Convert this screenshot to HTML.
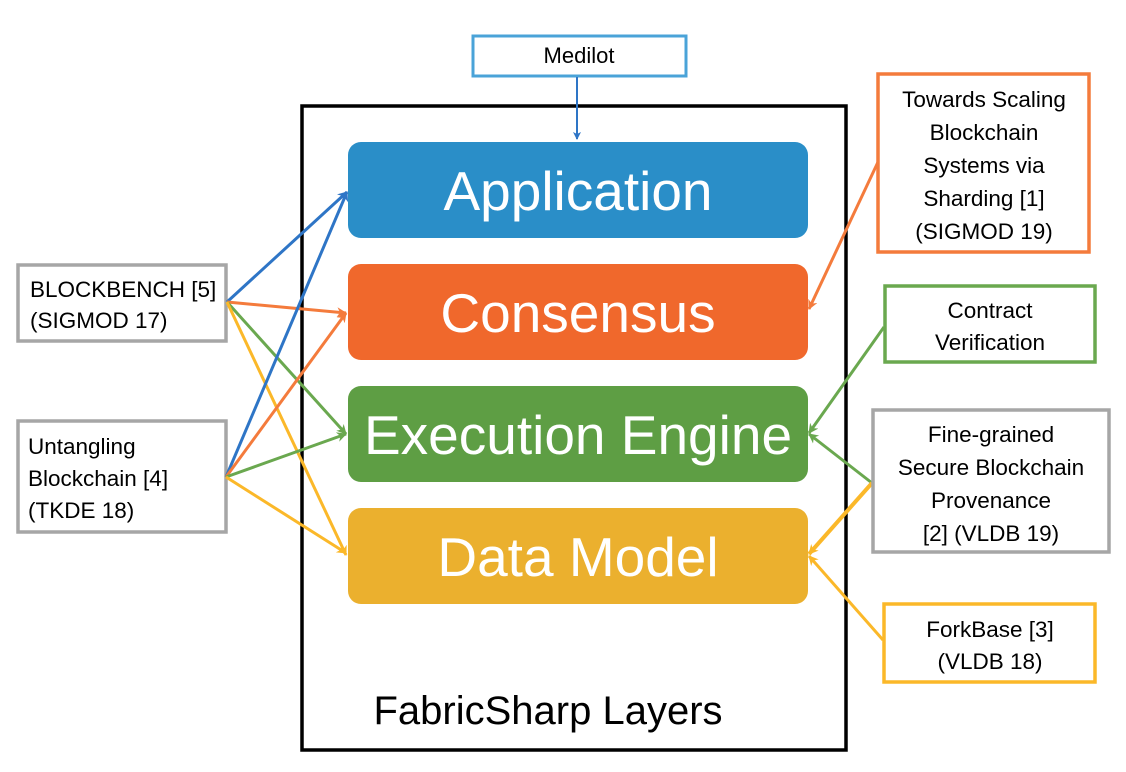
<!DOCTYPE html>
<html><head><meta charset="utf-8"><style>
html,body{margin:0;padding:0;background:#fff;}
svg text{font-family:"Liberation Sans",sans-serif;}
</style></head><body>
<svg width="1126" height="767" viewBox="0 0 1126 767" xmlns="http://www.w3.org/2000/svg">
<defs>
<marker id="ab" markerWidth="8" markerHeight="8" refX="7" refY="4" orient="auto" markerUnits="userSpaceOnUse"><path d="M0,0 L8,4 L0,8 L2,4 Z" fill="#2e75c6"/></marker>
<marker id="ao" markerWidth="10" markerHeight="10" refX="9" refY="5" orient="auto" markerUnits="userSpaceOnUse"><path d="M0,0 L10,5 L0,10 L3,5 Z" fill="#f47b3c"/></marker>
<marker id="ag" markerWidth="10" markerHeight="10" refX="9" refY="5" orient="auto" markerUnits="userSpaceOnUse"><path d="M0,0 L10,5 L0,10 L3,5 Z" fill="#6aa84f"/></marker>
<marker id="ay" markerWidth="10" markerHeight="10" refX="9" refY="5" orient="auto" markerUnits="userSpaceOnUse"><path d="M0,0 L10,5 L0,10 L3,5 Z" fill="#fbb829"/></marker>
<marker id="abl" markerWidth="10" markerHeight="10" refX="9" refY="5" orient="auto" markerUnits="userSpaceOnUse"><path d="M0,0 L10,5 L0,10 L3,5 Z" fill="#2e75c6"/></marker>
</defs>
<rect x="302" y="106" width="544" height="644" fill="none" stroke="#000" stroke-width="3.5"/>
<rect x="473" y="36" width="213" height="40" fill="#fff" stroke="#4aa3d8" stroke-width="3"/>
<text x="579" y="63" font-size="22" text-anchor="middle">Medilot</text>
<line x1="577" y1="77" x2="577" y2="139" stroke="#2e75c6" stroke-width="2" marker-end="url(#ab)"/>
<rect x="348" y="142" width="460" height="96" rx="13" fill="#2a8ec8"/>
<rect x="348" y="264" width="460" height="96" rx="13" fill="#f0682c"/>
<rect x="348" y="386" width="460" height="96" rx="13" fill="#5e9e44"/>
<rect x="348" y="508" width="460" height="96" rx="13" fill="#ebb02e"/>
<g fill="#fff" font-size="55" text-anchor="middle">
<text x="578" y="210">Application</text>
<text x="578" y="332">Consensus</text>
<text x="578" y="454">Execution Engine</text>
<text x="578" y="576">Data Model</text>
</g>
<text x="548" y="724" font-size="40" text-anchor="middle">FabricSharp Layers</text>
<rect x="18" y="265" width="208" height="76" fill="#fff" stroke="#a6a6a6" stroke-width="3.5"/>
<text x="30" y="297" font-size="22.5">BLOCKBENCH [5]</text>
<text x="30" y="328" font-size="22.5">(SIGMOD 17)</text>
<rect x="18" y="421" width="208" height="111" fill="#fff" stroke="#a6a6a6" stroke-width="3.5"/>
<text x="28" y="454" font-size="22.5">Untangling</text>
<text x="28" y="486" font-size="22.5">Blockchain [4]</text>
<text x="28" y="518" font-size="22.5">(TKDE 18)</text>
<g stroke-width="3" fill="none">
<line x1="227" y1="302" x2="347" y2="192" stroke="#2e75c6" marker-end="url(#abl)"/>
<line x1="227" y1="302" x2="346" y2="313" stroke="#f47b3c" marker-end="url(#ao)"/>
<line x1="227" y1="302" x2="346" y2="434" stroke="#6aa84f" marker-end="url(#ag)"/>
<line x1="227" y1="302" x2="346" y2="555" stroke="#fbb829" marker-end="url(#ay)"/>
<line x1="226" y1="477" x2="347" y2="192" stroke="#2e75c6" marker-end="url(#abl)"/>
<line x1="226" y1="477" x2="346" y2="313" stroke="#f47b3c" marker-end="url(#ao)"/>
<line x1="226" y1="477" x2="346" y2="434" stroke="#6aa84f" marker-end="url(#ag)"/>
<line x1="226" y1="477" x2="346" y2="553" stroke="#fbb829" marker-end="url(#ay)"/>
<line x1="878" y1="162" x2="809" y2="309" stroke="#f47b3c" marker-end="url(#ao)"/>
<line x1="884" y1="327" x2="809" y2="433" stroke="#6aa84f" marker-end="url(#ag)"/>
<line x1="872" y1="483" x2="809" y2="434" stroke="#6aa84f" marker-end="url(#ag)"/>
<line x1="872" y1="483" x2="809" y2="554" stroke="#fbb829" stroke-width="4" marker-end="url(#ay)"/>
<line x1="883" y1="640" x2="809" y2="556" stroke="#fbb829" marker-end="url(#ay)"/>
</g>
<rect x="878" y="74" width="211" height="178" fill="#fff" stroke="#f47b3c" stroke-width="3.5"/>
<g font-size="22.5" text-anchor="middle">
<text x="984" y="107">Towards Scaling</text>
<text x="984" y="140">Blockchain</text>
<text x="984" y="173">Systems via</text>
<text x="984" y="206">Sharding [1]</text>
<text x="984" y="239">(SIGMOD 19)</text>
</g>
<rect x="885" y="286" width="210" height="76" fill="#fff" stroke="#6aa84f" stroke-width="3.5"/>
<text x="990" y="318" font-size="22.5" text-anchor="middle">Contract</text>
<text x="990" y="350" font-size="22.5" text-anchor="middle">Verification</text>
<rect x="873" y="410" width="236" height="142" fill="#fff" stroke="#a6a6a6" stroke-width="3.5"/>
<g font-size="22.5" text-anchor="middle">
<text x="991" y="442">Fine-grained</text>
<text x="991" y="475">Secure Blockchain</text>
<text x="991" y="508">Provenance</text>
<text x="991" y="541">[2] (VLDB 19)</text>
</g>
<rect x="884" y="604" width="211" height="78" fill="#fff" stroke="#fbb829" stroke-width="3.5"/>
<text x="990" y="637" font-size="22.5" text-anchor="middle">ForkBase [3]</text>
<text x="990" y="669" font-size="22.5" text-anchor="middle">(VLDB 18)</text>
</svg>
</body></html>
